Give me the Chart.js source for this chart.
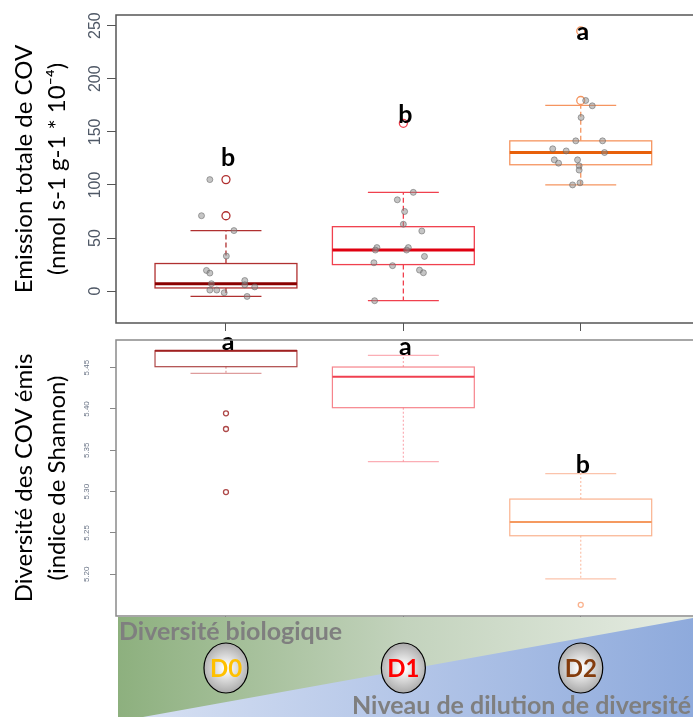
<!DOCTYPE html>
<html lang="fr">
<head>
<meta charset="utf-8">
<script src="https://cdn.jsdelivr.net/npm/chart.js@4.4.0/dist/chart.umd.min.js"></script>
<style>
  body { margin: 0; background: #fff; }
  #wrap { position: relative; width: 693px; height: 717px; overflow: hidden; }
  #haut { position: absolute; left: 0; top: 0; }
  #bas { position: absolute; left: 0; top: 328px; }
</style>
</head>
<body>
<div id="wrap">
  <canvas id="haut" width="693" height="336"></canvas>
  <canvas id="bas" width="693" height="389"></canvas>
</div>
<script>
var groups = ['D0', 'D1', 'D2'];
var groupColors = ['#FFC000', '#FF0000', '#843C0C'];

// panneau du haut : emission totale de COV
var emTicks = [0, 50, 100, 150, 200, 250];
var emQ1 = [3, 25, 119];
var emMed = [7, 38.7, 130.5];
var emQ3 = [26, 60.7, 141.5];
var emLow = [-5, -9, 100];
var emHigh = [57, 93, 175];
var emOut = [[105, 71], [158], [179.5, 245]];
var emLetters = ['b', 'b', 'a'];
var emLetterY = [125, 166, 244];
// points individuels (jitter)
var emJitX = [
  [0.909, 0.862, 1.045, 1.002, 0.890, 0.909, 0.918, 1.106, 1.106, 1.162, 0.909, 0.948, 0.990, 1.119],
  [2.056, 1.966, 2.007, 2.0, 2.104, 1.851, 1.842, 2.028, 2.018, 2.119, 1.834, 1.939, 2.091, 2.113, 1.838],
  [3.028, 3.065, 3.002, 2.972, 3.123, 2.842, 2.918, 3.134, 2.851, 2.875, 2.982, 2.991, 2.991, 2.996, 2.954]
];
var emJitY = [
  [105, 71, 57, 33, 19.5, 17, 7, 10, 6, 4, 1, 1, -1.5, -5],
  [93, 86, 75, 63, 56.6, 41, 38.7, 41, 38.7, 32.7, 26.7, 24, 19.8, 17.3, -9],
  [179.5, 174.5, 163.5, 141.5, 141.5, 134, 132, 130.5, 123.6, 120.5, 123.6, 118, 114, 102, 100]
];

// panneau du bas : diversite (indice de Shannon)
var shTicks = [5.20, 5.25, 5.30, 5.35, 5.40, 5.45];
var shTickLabels = ['5.20', '5.25', '5.30', '5.35', '5.40', '5.45'];
var shQ1 = [5.4512, 5.4016, 5.2466];
var shMed = [5.4706, 5.4391, 5.2632];
var shQ3 = [5.4706, 5.4508, 5.2910];
var shLow = [5.4432, 5.3362, 5.1944];
var shHigh = [5.4706, 5.4650, 5.3217];
var shOut = [[5.3948, 5.3758, 5.2995], [], [5.1630]];
var shLetters = ['a', 'a', 'b'];
var shLetterY = [5.481, 5.4754, 5.3322];

function boxPlugin(s) {
  return {
    id: 'boites',
    beforeDatasetsDraw: function (chart) {
      var ctx = chart.ctx, x = chart.scales.x, y = chart.scales.y;
      ctx.save();
      for (var i = 0; i < s.q1.length; i++) {
        var cx = x.getPixelForValue(i + 1);
        var bw = x.getPixelForValue(i + 1.4) - cx;
        var cw = bw / 2;
        var yq1 = y.getPixelForValue(s.q1[i]), yq3 = y.getPixelForValue(s.q3[i]);
        var ymd = y.getPixelForValue(s.med[i]);
        var ylo = y.getPixelForValue(s.lo[i]), yhi = y.getPixelForValue(s.hi[i]);
        ctx.strokeStyle = s.whisker[i];
        ctx.lineWidth = s.lw;
        ctx.setLineDash(s.dash);
        ctx.beginPath();
        ctx.moveTo(cx, yq3); ctx.lineTo(cx, yhi);
        ctx.moveTo(cx, yq1); ctx.lineTo(cx, ylo);
        ctx.stroke();
        ctx.setLineDash([]);
        ctx.beginPath();
        ctx.moveTo(cx - cw, yhi); ctx.lineTo(cx + cw, yhi);
        ctx.moveTo(cx - cw, ylo); ctx.lineTo(cx + cw, ylo);
        ctx.stroke();
        ctx.strokeStyle = s.line[i];
        ctx.strokeRect(cx - bw, yq3, 2 * bw, yq1 - yq3);
        ctx.strokeStyle = s.median[i];
        ctx.lineWidth = s.mw;
        ctx.beginPath();
        ctx.moveTo(cx - bw, ymd); ctx.lineTo(cx + bw, ymd);
        ctx.stroke();
      }
      ctx.restore();
    },
    afterDatasetsDraw: function (chart) {
      var ctx = chart.ctx, x = chart.scales.x, y = chart.scales.y;
      ctx.save();
      ctx.fillStyle = '#000';
      ctx.font = 'bold 25px Lato';
      ctx.textAlign = 'center';
      ctx.textBaseline = 'middle';
      for (var i = 0; i < s.letters.length; i++) {
        ctx.fillText(s.letters[i], x.getPixelForValue(i + 1) + 2, y.getPixelForValue(s.letterY[i]));
      }
      ctx.restore();
    },
    afterDraw: function (chart) {
      var ctx = chart.ctx, a = chart.chartArea, y = chart.scales.y;
      ctx.save();
      ctx.strokeStyle = s.frame;
      ctx.lineWidth = 1.5;
      ctx.strokeRect(a.left, a.top, a.right - a.left + 10, a.bottom - a.top);
      // etiquettes de l'axe y, tournees comme dans R
      ctx.fillStyle = s.tickColor;
      ctx.font = s.tickFont;
      ctx.textAlign = 'center';
      ctx.textBaseline = 'middle';
      for (var i = 0; i < s.ticks.length; i++) {
        ctx.save();
        ctx.translate(s.labelX, y.getPixelForValue(s.ticks[i]));
        ctx.rotate(-Math.PI / 2);
        ctx.fillText(s.tickLabels[i], 0, 0);
        ctx.restore();
      }
      ctx.restore();
    }
  };
}

// bandeau du bas : diversite biologique / niveau de dilution
var bandeau = {
  id: 'bandeau',
  afterDraw: function (chart) {
    var ctx = chart.ctx, a = chart.chartArea, x = chart.scales.x;
    var top = a.bottom + 1, bottom = chart.height, left = a.left + 2, right = chart.width;
    ctx.save();
    var g = ctx.createLinearGradient(left, 0, right, 0);
    g.addColorStop(0, '#8db07e');
    g.addColorStop(0.5, '#c3d3bd');
    g.addColorStop(1, '#e6ece3');
    ctx.fillStyle = g;
    ctx.fillRect(left, top, right - left, bottom - top);
    var b = ctx.createLinearGradient(left, 0, right, 0);
    b.addColorStop(0, '#d9e2f3');
    b.addColorStop(0.5, '#b4c6e8');
    b.addColorStop(1, '#8eaadc');
    ctx.fillStyle = b;
    ctx.beginPath();
    ctx.moveTo(143, bottom);
    ctx.lineTo(right, top + 1);
    ctx.lineTo(right, bottom);
    ctx.closePath();
    ctx.fill();

    ctx.fillStyle = '#7f7f7f';
    ctx.font = 'bold 25px Lato';
    ctx.textBaseline = 'middle';
    ctx.textAlign = 'left';
    ctx.fillText('Diversité biologique', 119, top + 15);
    ctx.textAlign = 'right';
    ctx.fillText('Niveau de dilution de diversité', right - 2, bottom - 11);

    for (var i = 0; i < groups.length; i++) {
      var cx = x.getPixelForValue(i + 1), cy = top + 51;
      var rg = ctx.createRadialGradient(cx, cy, 2, cx, cy, 25);
      rg.addColorStop(0, '#ffffff');
      rg.addColorStop(1, '#a9a9a9');
      ctx.fillStyle = rg;
      ctx.beginPath();
      ctx.ellipse(cx, cy, 22, 25, 0, 0, Math.PI * 2);
      ctx.fill();
      ctx.strokeStyle = '#000';
      ctx.lineWidth = 1.2;
      ctx.stroke();
      ctx.fillStyle = groupColors[i];
      ctx.font = 'bold 24px Lato';
      ctx.textAlign = 'center';
      ctx.fillText(groups[i], cx, cy + 1);
    }
    ctx.restore();
  }
};

function jitterPoints() {
  var pts = [];
  for (var g = 0; g < emJitX.length; g++) {
    for (var k = 0; k < emJitX[g].length; k++) pts.push({x: emJitX[g][k], y: emJitY[g][k]});
  }
  return pts;
}

function outlierSets(out, colors, radius) {
  return out.map(function (vals, i) {
    return {
      data: vals.map(function (v) { return {x: i + 1, y: v}; }),
      pointRadius: radius,
      pointBorderWidth: 1.3,
      borderColor: colors[i],
      backgroundColor: 'rgba(255,255,255,0)'
    };
  });
}

function fixTicks(vals) {
  return function (scale) {
    scale.ticks = vals.map(function (v) { return {value: v}; });
  };
}

var emLine = ['#b03030', '#f0404e', '#f59560'];
var shLine = ['rgba(160,40,40,0.85)', 'rgba(245,110,120,0.85)', 'rgba(250,170,130,0.9)'];

new Chart(document.getElementById('haut'), {
  type: 'scatter',
  data: {
    datasets: [{
      data: jitterPoints(),
      pointRadius: 3,
      pointBorderWidth: 1,
      backgroundColor: 'rgba(140,140,140,0.5)',
      borderColor: 'rgba(100,100,100,0.55)'
    }].concat(outlierSets(emOut, emLine, 4))
  },
  options: {
    responsive: false,
    animation: false,
    layout: {padding: {top: 15, left: 0, right: 0, bottom: 0}},
    plugins: {legend: {display: false}, tooltip: {enabled: false}},
    scales: {
      x: {
        type: 'linear', min: 0.38, max: 3.603,
        afterBuildTicks: fixTicks([1, 2, 3]),
        afterFit: function (s) { s.height = 13; },
        ticks: {display: false},
        border: {display: false},
        grid: {drawOnChartArea: false, drawTicks: true, tickLength: 8, color: '#555'}
      },
      y: {
        min: -30, max: 260,
        afterBuildTicks: fixTicks(emTicks),
        afterFit: function (s) { s.width = 116; },
        ticks: {display: false},
        border: {display: false},
        grid: {drawOnChartArea: false, drawTicks: true, tickLength: 9, color: '#555'},
        title: {
          display: true,
          text: ['Emission totale de COV', '(nmol s-1 g-1 * 10\u207B\u2074)'],
          color: '#000',
          font: {family: 'Lato', size: 24, lineHeight: '33px'},
          padding: {top: 8, bottom: 0}
        }
      }
    }
  },
  plugins: [boxPlugin({
    q1: emQ1, med: emMed, q3: emQ3, lo: emLow, hi: emHigh,
    line: emLine, whisker: emLine, median: ['#8b0000', '#e00010', '#e8600a'],
    dash: [5, 3], lw: 1.3, mw: 3,
    letters: emLetters, letterY: emLetterY,
    frame: '#555', ticks: emTicks, tickLabels: emTicks.map(String),
    tickColor: '#4f5866', tickFont: '16px "Liberation Sans"', labelX: 96
  })]
});

new Chart(document.getElementById('bas'), {
  type: 'scatter',
  data: {datasets: outlierSets(shOut, shLine, 2.5)},
  options: {
    responsive: false,
    animation: false,
    layout: {padding: {top: 12, left: 0, right: 0, bottom: 0}},
    plugins: {legend: {display: false}, tooltip: {enabled: false}},
    scales: {
      x: {
        type: 'linear', min: 0.38, max: 3.603,
        afterBuildTicks: fixTicks([1, 2, 3]),
        afterFit: function (s) { s.height = 101; },
        ticks: {display: false},
        border: {display: false},
        grid: {drawOnChartArea: false, drawTicks: true, tickLength: 3, color: '#777'}
      },
      y: {
        min: 5.1495, max: 5.4835,
        afterBuildTicks: fixTicks(shTicks),
        afterFit: function (s) { s.width = 116; },
        ticks: {display: false},
        border: {display: false},
        grid: {drawOnChartArea: false, drawTicks: true, tickLength: 6, color: '#888'},
        title: {
          display: true,
          text: ['Diversité des COV émis', '(indice de Shannon)'],
          color: '#000',
          font: {family: 'Lato', size: 24, lineHeight: '33px'},
          padding: {top: 8, bottom: 0}
        }
      }
    }
  },
  plugins: [boxPlugin({
    q1: shQ1, med: shMed, q3: shQ3, lo: shLow, hi: shHigh,
    line: shLine, whisker: ['rgba(200,90,90,0.6)', 'rgba(250,140,150,0.7)', 'rgba(250,180,150,0.8)'],
    median: ['#a02020', '#f04050', '#f59a60'],
    dash: [2, 2], lw: 1.2, mw: 2,
    letters: shLetters, letterY: shLetterY,
    frame: '#8a8a8a', ticks: shTicks, tickLabels: shTickLabels,
    tickColor: '#6a7486', tickFont: '8px "Liberation Sans Narrow", "Liberation Sans"', labelX: 87
  }), bandeau]
});
</script>
</body>
</html>
